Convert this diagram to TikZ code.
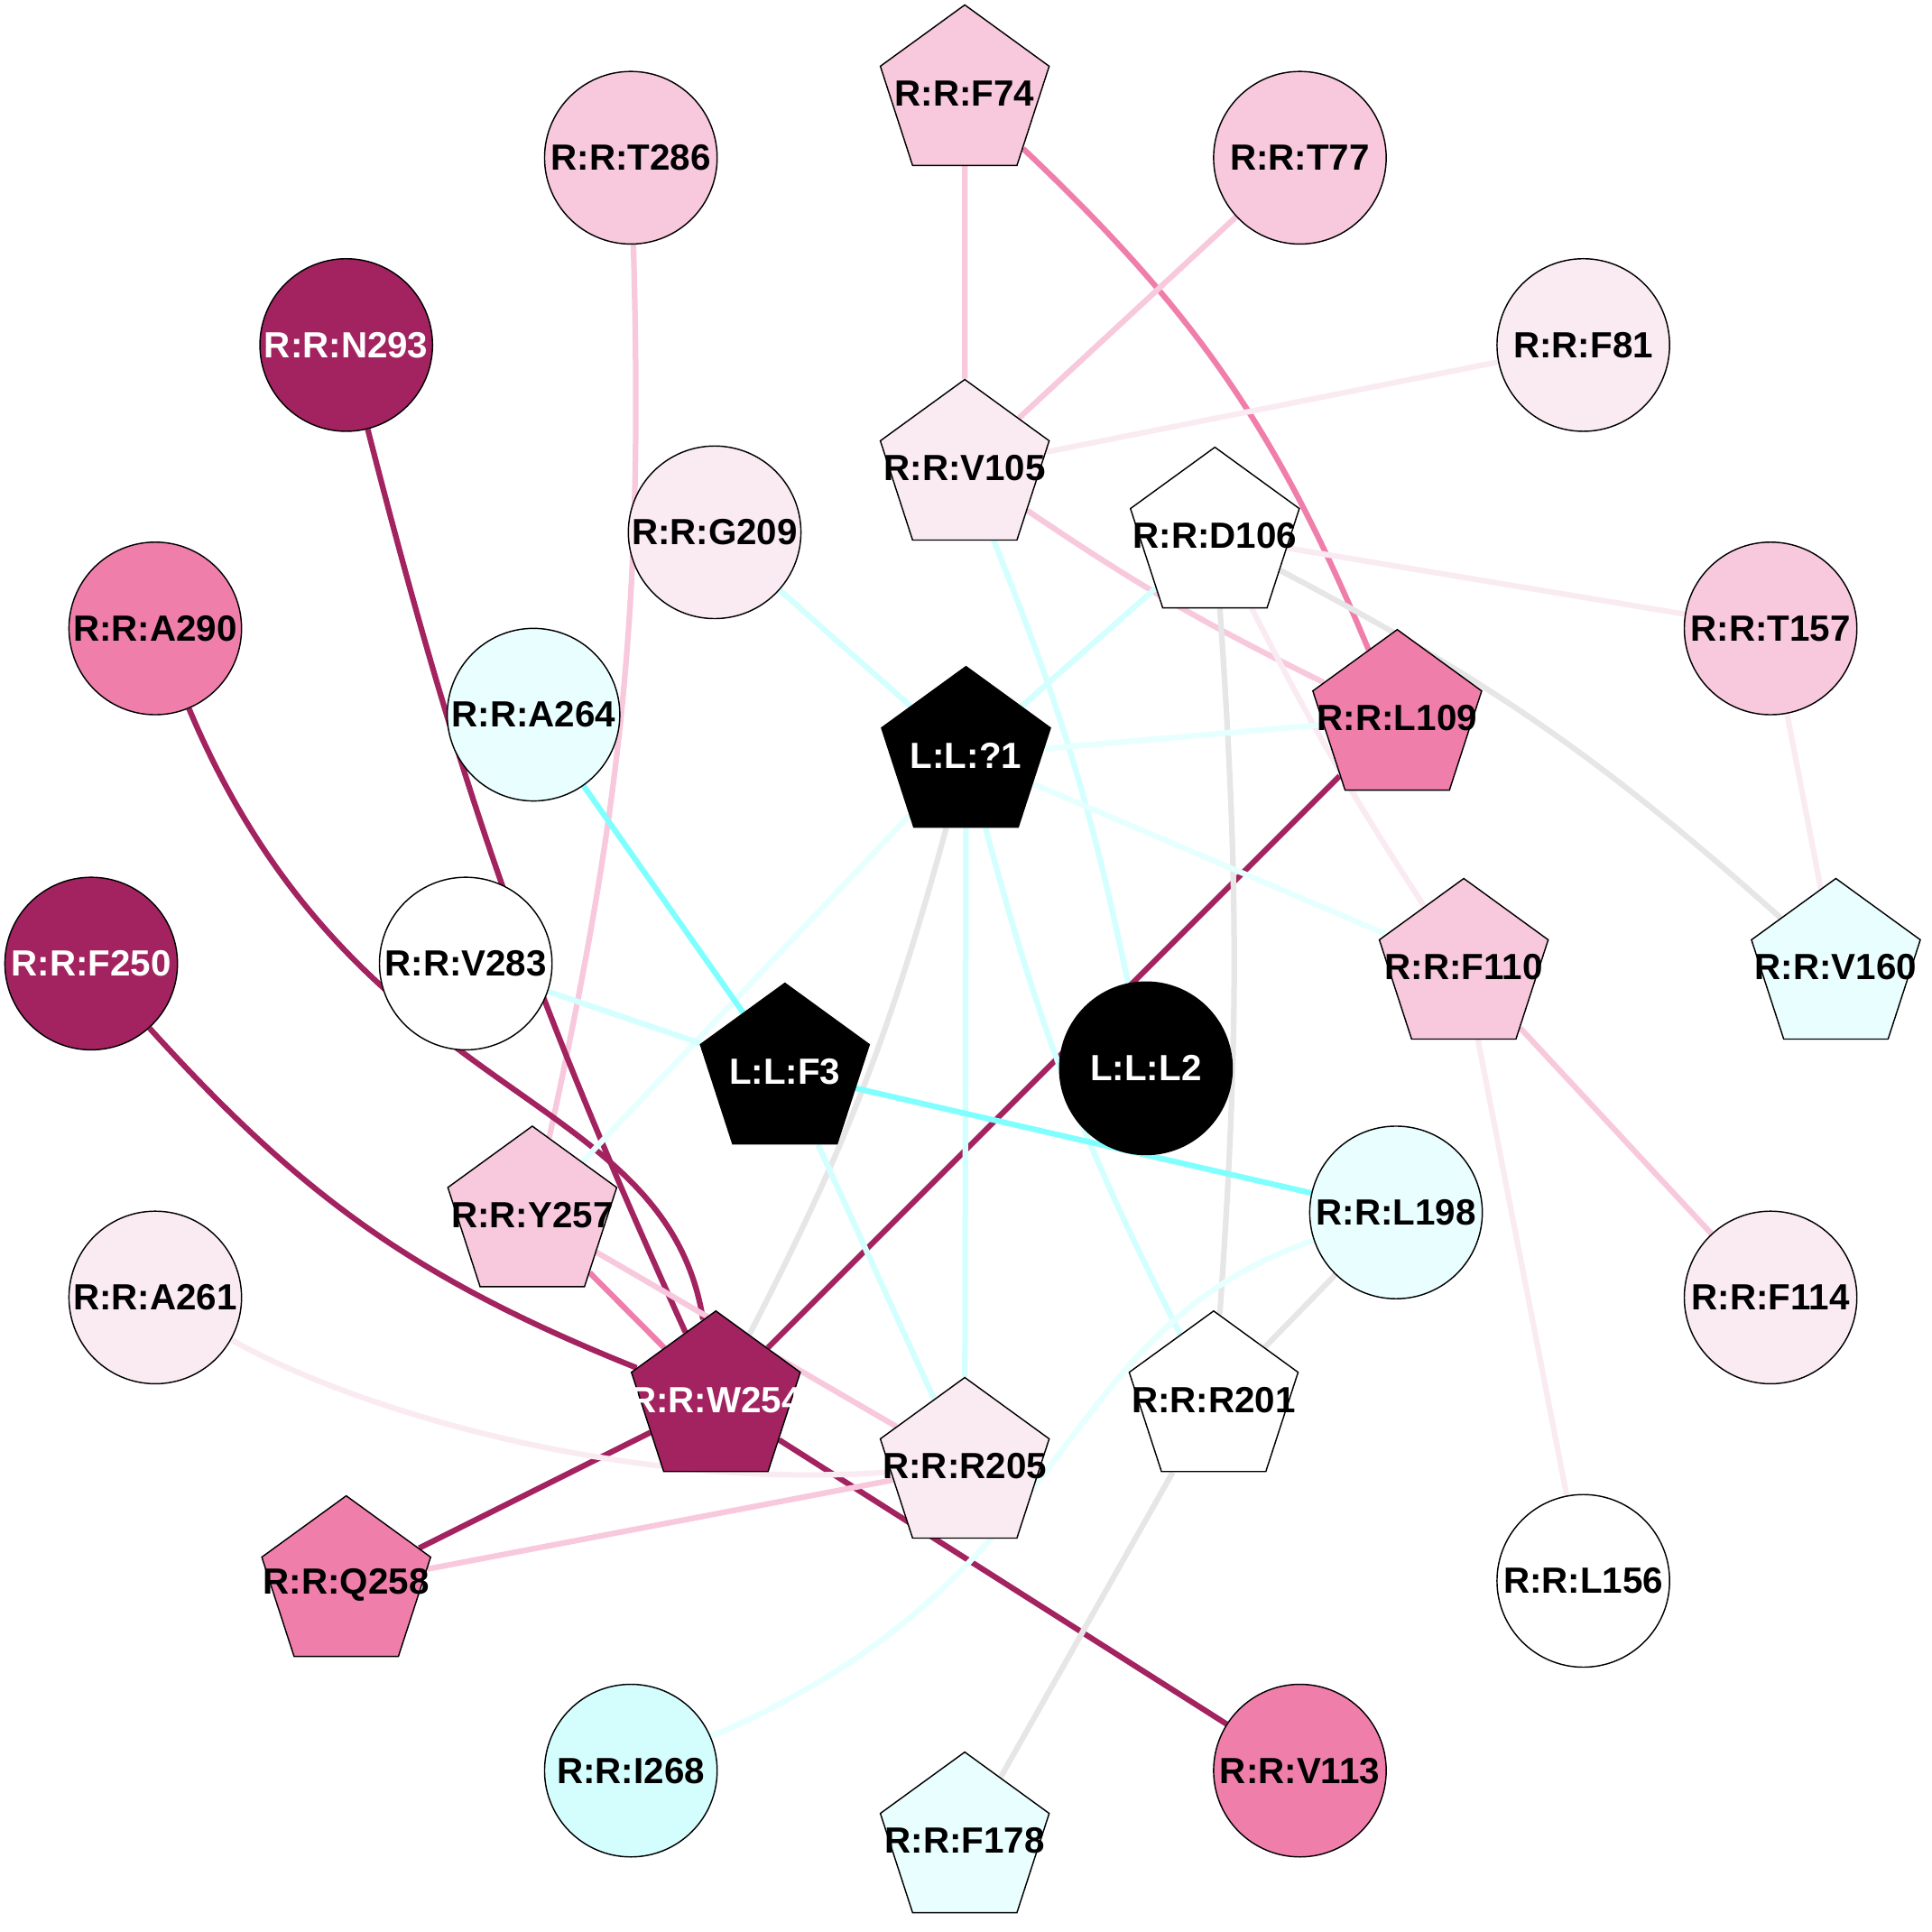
\documentclass[tikz,border=0pt]{standalone}
\usepackage{fontspec}
\setmainfont{Liberation Sans}
\usetikzlibrary{shapes.geometric,backgrounds}
\definecolor{rdark}{HTML}{A2235F}
\definecolor{rmid}{HTML}{F07EAB}
\definecolor{rlight}{HTML}{F8C8DC}
\definecolor{rpale}{HTML}{FAEBF2}
\definecolor{cpale}{HTML}{E9FEFE}
\definecolor{clight}{HTML}{D4FEFE}
\definecolor{ebright}{HTML}{80FFFF}
\definecolor{ecyan}{HTML}{D3FFFF}
\definecolor{epale}{HTML}{E6FFFF}
\definecolor{egray}{HTML}{E6E6E6}
\begin{document}
\begin{tikzpicture}
[x=0.01cm,y=-0.01cm
,rn/.style={circle,draw,line width=0.3pt,minimum size=1.4cm,inner sep=0pt,font=\fontsize{8.4}{9}\selectfont\bfseries}
,pn/.style={rn,regular polygon,regular polygon sides=5,minimum size=1.44cm,inner sep=-3mm}
,lig/.style={fill=black,text=white}
,dk/.style={fill=rdark,text=white}
,be/.style={line width=1.3pt}]
\useasboundingbox (0,0) rectangle (1568,1568);
\node[pn,fill=rlight] (F74) at (783,76) {R:R:F74};
\node[rn,fill=rlight] (T286) at (512,128) {R:R:T286};
\node[rn,fill=rlight] (T77) at (1055,128) {R:R:T77};
\node[rn,dk] (N293) at (281,280) {R:R:N293};
\node[rn,fill=rpale] (F81) at (1285,280) {R:R:F81};
\node[pn,fill=rpale] (V105) at (783,380) {R:R:V105};
\node[rn,fill=rpale] (G209) at (580,432) {R:R:G209};
\node[pn,fill=white] (D106) at (986,435) {R:R:D106};
\node[rn,fill=rmid] (A290) at (126,510) {R:R:A290};
\node[rn,fill=rlight] (T157) at (1437,510) {R:R:T157};
\node[rn,fill=cpale] (A264) at (433,580) {R:R:A264};
\node[pn,lig] (Q1) at (784,613) {L:L:?1};
\node[pn,fill=rmid] (L109) at (1134,583) {R:R:L109};
\node[rn,dk] (F250) at (74,782) {R:R:F250};
\node[rn,fill=white] (V283) at (378,782) {R:R:V283};
\node[pn,fill=rlight] (F110) at (1188,785) {R:R:F110};
\node[pn,fill=cpale] (V160) at (1490,785) {R:R:V160};
\node[pn,lig] (F3) at (637,870) {L:L:F3};
\node[rn,lig] (L2) at (930,867) {L:L:L2};
\node[rn,fill=cpale] (L198) at (1133,984) {R:R:L198};
\node[pn,fill=rlight] (Y257) at (432,986) {R:R:Y257};
\node[rn,fill=rpale] (A261) at (126,1053) {R:R:A261};
\node[rn,fill=rpale] (F114) at (1437,1053) {R:R:F114};
\node[pn,dk] (W254) at (581,1136) {R:R:W254};
\node[pn,fill=white] (R201) at (985,1136) {R:R:R201};
\node[pn,fill=rpale] (R205) at (783,1190) {R:R:R205};
\node[pn,fill=rmid] (Q258) at (281,1286) {R:R:Q258};
\node[rn,fill=white] (L156) at (1285,1283) {R:R:L156};
\node[rn,fill=clight] (I268) at (512,1437) {R:R:I268};
\node[pn,fill=cpale] (F178) at (783,1494) {R:R:F178};
\node[rn,fill=rmid] (V113) at (1055,1437) {R:R:V113};
\begin{scope}[on background layer]
\draw[be,rlight] (F74) -- (V105);
\draw[be,rmid] (F74) to[bend left=12] (L109);
\draw[be,rlight] (T77) -- (V105);
\draw[be,rpale] (F81) -- (V105);
\draw[be,rlight] (V105) to[bend right=4] (L109);
\draw[be,ecyan] (V105) to[bend left=5] (L2);
\draw[be,rlight] (T286) to[bend left=7] (Y257);
\draw[be,rdark] (N293) to[bend right=5] (W254);
\draw[be,rdark] (A290) .. controls (290,900) and (540,880) .. (W254);
\draw[be,rdark] (F250) to[bend right=13] (W254);
\draw[be,rdark] (L109) -- (W254);
\draw[be,rdark] (W254) -- (Q258);
\draw[be,rdark] (W254) -- (V113);
\draw[be,ecyan] (G209) -- (Q1);
\draw[be,ecyan] (D106) -- (Q1);
\draw[be,rpale] (D106) -- (T157);
\draw[be,egray] (D106) to[bend left=7] (V160);
\draw[be,egray] (D106) to[bend left=4] (R201);
\draw[be,rpale] (D106) to[bend right=3] (F110);
\draw[be,epale] (Q1) -- (L109);
\draw[be,epale] (Q1) -- (F110);
\draw[be,egray] (Q1) to[bend left=6] (W254);
\draw[be,ecyan] (Q1) -- (R205);
\draw[be,ecyan] (Q1) to[bend right=6] (R201);
\draw[be,epale] (Q1) -- (Y257);
\draw[be,rpale] (T157) -- (V160);
\draw[be,ebright] (A264) -- (F3);
\draw[be,ecyan] (V283) -- (F3);
\draw[be,ebright] (F3) -- (L198);
\draw[be,ecyan] (F3) -- (R205);
\draw[be,rlight] (F110) -- (F114);
\draw[be,rpale] (F110) -- (L156);
\draw[be,epale] (L198) .. controls (850,1080) and (880,1280) .. (I268);
\draw[be,egray] (L198) -- (R201);
\draw[be,egray] (R201) -- (F178);
\draw[be,rmid] (Y257) -- (W254);
\draw[be,rlight] (Y257) -- (R205);
\draw[be,rpale] (A261) .. controls (300,1150) and (520,1210) .. (R205);
\draw[be,rlight] (Q258) -- (R205);
\end{scope}
\end{tikzpicture}
\end{document}
